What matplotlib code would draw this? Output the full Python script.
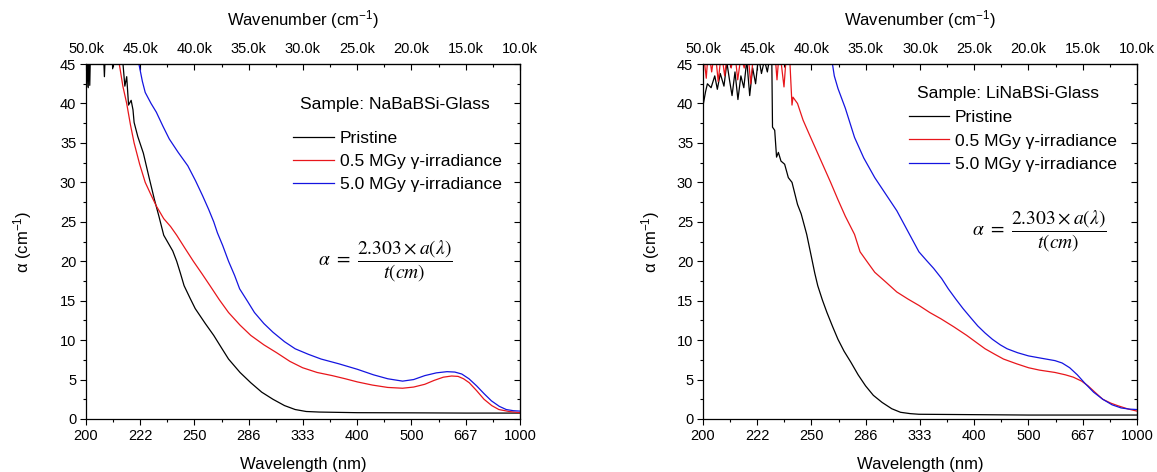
import numpy as np
import matplotlib
matplotlib.use("Agg")
import matplotlib.pyplot as plt
from matplotlib.ticker import FixedLocator, MultipleLocator, FuncFormatter
from matplotlib.lines import Line2D

plt.rcParams['font.family'] = ['Liberation Sans', 'DejaVu Sans']
plt.rcParams['mathtext.fontset'] = 'custom'
plt.rcParams['mathtext.rm'] = 'Liberation Sans'
plt.rcParams['mathtext.it'] = 'Liberation Sans:italic'

# absorption spectra, x in wavenumber (cm^-1), alpha in cm^-1
# --- NaBaBSi glass ---
nabab_pristine_wn = [50000, 49930, 49860, 49790, 49720, 49650, 49580, 49500, 48400, 48300, 48200,
                     47600, 47540, 47480, 46800, 46587, 46416, 46246, 46075, 45836, 45666, 45563,
                     45222, 44710, 44198, 43686, 43276, 42833, 42000, 41638, 41300, 40956, 40400,
                     39932, 39000, 38225, 37500, 36860, 35800, 34812, 33800, 32765, 31700, 30717,
                     29700, 28500, 25000, 20000, 15000, 10000]
nabab_pristine_a = [48, 42.1, 47, 42.0, 47, 42.3, 47, 47, 47, 43.4, 47,
                    47, 44.4, 47, 47, 45, 42.2, 43.4, 39.8, 40.4, 39.2, 37.6,
                    35.8, 33.7, 30.7, 27.8, 25.7, 23.3, 21.3, 20.0, 18.5, 16.9, 15.3,
                    14.0, 12.1, 10.6, 9.0, 7.6, 5.9, 4.6, 3.4, 2.5, 1.7, 1.2,
                    0.95, 0.88, 0.8, 0.78, 0.75, 0.75]
nabab_05_wn = [47400, 46928, 46600, 46246, 45900, 45563, 45051, 44539, 44000, 43515, 42833,
               42200, 41638, 40900, 40102, 39300, 38567, 37700, 36860, 35800, 34812, 33600,
               32423, 31200, 30034, 28700, 27304, 26100, 24983, 23600, 22184, 20819, 19800,
               18771, 17900, 17065, 16300, 15700, 15200, 14676, 14000, 13311, 12600, 11946,
               11000, 10000]
nabab_05_a = [48, 45, 42.2, 40, 37.3, 35, 32.3, 30, 28.4, 27, 25.4,
              24.4, 23.3, 21.7, 20.0, 18.4, 16.9, 15.1, 13.5, 11.9, 10.6, 9.4,
              8.4, 7.3, 6.5, 5.9, 5.5, 5.1, 4.7, 4.3, 4.0, 3.9, 4.05,
              4.4, 4.9, 5.3, 5.45, 5.4, 5.1, 4.6, 3.6, 2.5, 1.7, 1.2,
              0.95, 0.8]
nabab_50_wn = [45600, 45119, 44800, 44539, 44000, 43515, 42900, 42321, 41500, 40614, 39900,
               39249, 38700, 38225, 37884, 37400, 36860, 36300, 35836, 35100, 34471, 33600,
               32765, 31700, 30717, 29500, 28328, 26700, 24983, 23500, 22184, 20819, 19800,
               18771, 17700, 16724, 16000, 15359, 14700, 13994, 13300, 12629, 11900, 11264,
               10600, 10000]
nabab_50_a = [48, 45, 42.8, 41.4, 40.0, 38.9, 37.1, 35.5, 33.8, 32.1, 30.2,
              28.3, 26.6, 25.0, 23.6, 22.0, 20.0, 18.2, 16.5, 14.9, 13.5, 12.1,
              11.0, 9.8, 8.9, 8.2, 7.6, 7.0, 6.3, 5.6, 5.1, 4.8, 5.0,
              5.5, 5.85, 6.0, 5.95, 5.7, 5.1, 4.2, 3.2, 2.3, 1.6, 1.2,
              1.05, 1.0]

# --- LiNaBSi glass ---
linab_pristine_wn = [50000, 49763, 49593, 49254, 48915, 48678, 48407, 48068, 47797, 47559, 47322,
                     47051, 46780, 46508, 46237, 45966, 45695, 45424, 45152, 44881, 44610, 44339,
                     44068, 43830, 43661, 43593, 43390, 43220, 43051, 42813, 42474, 42135, 41796,
                     41288, 40949, 40440, 40000, 39700, 39423, 39000, 38576, 38050, 37559, 37000,
                     36372, 35700, 35016, 34300, 33491, 32600, 31796, 30900, 30101, 25000, 20000,
                     10000]
linab_pristine_a = [39.7, 41.5, 42.5, 42.0, 43.5, 41.8, 43.8, 42.2, 45.2, 43.0, 41.0,
                    44.0, 40.5, 43.5, 42.0, 45.5, 41.0, 44.5, 42.5, 46.0, 43.8, 45.5,
                    44.0, 46.0, 46.0, 37.0, 36.6, 33.2, 33.8, 32.7, 32.3, 30.6, 30.0,
                    27.2, 26.0, 23.4, 20.5, 18.5, 16.9, 15.1, 13.5, 11.7, 10.1, 8.6,
                    7.2, 5.6, 4.2, 3.0, 2.1, 1.3, 0.85, 0.68, 0.6, 0.55, 0.5,
                    0.5]
linab_05_wn = [50000, 49700, 49500, 49200, 48900, 48600, 48300, 48000, 47700, 47400, 47100,
               46800, 46500, 46200, 45900, 45600, 45300, 44000, 43400, 43180, 42950, 42535,
               42300, 42000, 41797, 41705, 41288, 40779, 40271, 39593, 38915, 38237, 37559,
               36881, 36033, 35525, 34800, 34169, 33100, 32135, 31100, 30101, 29100, 28067,
               26900, 25694, 24800, 23999, 23100, 22304, 21100, 20000, 19000, 17559, 16600,
               15864, 15100, 14509, 13800, 13153, 12400, 11797, 10900, 10000]
linab_05_a = [47, 43.2, 47, 44.0, 47, 42.8, 46.5, 43.5, 47, 44.5, 47,
              43.0, 46, 44.5, 47, 42.5, 47, 48, 47, 43.0, 47, 42.1,
              46.5, 45.5, 39.8, 40.8, 40.0, 37.9, 36.3, 34.2, 32.1, 30.0, 27.8,
              25.7, 23.4, 21.2, 19.8, 18.6, 17.3, 16.1, 15.2, 14.4, 13.5, 12.7,
              11.7, 10.6, 9.7, 8.9, 8.2, 7.6, 7.0, 6.5, 6.2, 5.9, 5.6,
              5.3, 4.8, 4.2, 3.3, 2.5, 2.0, 1.7, 1.3, 1.0]
linab_50_wn = [38500, 38067, 37898, 37559, 36881, 36033, 35186, 34169, 33152, 32135, 31118,
               30101, 29400, 28745, 28000, 27389, 26700, 26033, 25300, 24677, 24000, 23321,
               22600, 21965, 21000, 20000, 18800, 17559, 16900, 16203, 15500, 14848, 14000,
               13153, 12300, 11458, 10700, 10000]
linab_50_a = [48, 45, 43.5, 41.9, 39.4, 35.7, 33.1, 30.6, 28.5, 26.4, 23.8,
              21.2, 20.1, 19.1, 17.8, 16.5, 15.2, 14.0, 12.8, 11.8, 10.9, 10.1,
              9.4, 8.9, 8.4, 8.0, 7.7, 7.4, 7.1, 6.5, 5.6, 4.6, 3.4,
              2.5, 1.8, 1.4, 1.25, 1.2]

series_labels = ['Pristine', '0.5 MGy γ-irradiance', '5.0 MGy γ-irradiance']
series_colors = ['black', '#e8161b', '#1414e0']
major_wn = np.arange(50000, 9999, -5000)


def style_axes(ax):
    ax.set_xlim(50000, 10000)
    ax.set_ylim(0, 45)
    ax.xaxis.set_major_locator(FixedLocator(major_wn))
    ax.xaxis.set_minor_locator(MultipleLocator(2500))
    ax.xaxis.set_major_formatter(FuncFormatter(lambda v, p: f"{1e7 / v:.0f}"))
    ax.yaxis.set_major_locator(MultipleLocator(5))
    ax.yaxis.set_minor_locator(MultipleLocator(2.5))
    ax.tick_params(which='both', direction='out', width=0.8, labelsize=10.5, pad=3)
    ax.tick_params(which='major', length=4)
    ax.tick_params(which='minor', length=2.5)
    for s in ax.spines.values():
        s.set_linewidth(0.9)
    ax.set_xlabel('Wavelength (nm)', fontsize=12, labelpad=10)
    ax.set_ylabel('α (cm$^{-1}$)', fontsize=12)

    top = ax.secondary_xaxis('top')
    top.xaxis.set_major_locator(FixedLocator(major_wn))
    top.xaxis.set_minor_locator(MultipleLocator(2500))
    top.xaxis.set_major_formatter(FuncFormatter(lambda v, p: f"{v / 1000:.1f}k"))
    top.tick_params(which='both', direction='in', width=0.8, labelsize=10.5, pad=6)
    top.tick_params(which='major', length=4)
    top.tick_params(which='minor', length=2.5)
    top.set_xlabel('Wavenumber (cm$^{-1}$)', fontsize=12, labelpad=12)

    right = ax.secondary_yaxis('right')
    right.yaxis.set_major_locator(MultipleLocator(5))
    right.yaxis.set_minor_locator(MultipleLocator(2.5))
    right.tick_params(which='both', direction='in', width=0.8, labelright=False)
    right.tick_params(which='major', length=4)
    right.tick_params(which='minor', length=2.5)


fig = plt.figure(figsize=(11.57, 4.72), dpi=100)
ax1 = fig.add_axes([0.0743, 0.1123, 0.3751, 0.752])
ax2 = fig.add_axes([0.6076, 0.1123, 0.3751, 0.752])

panels = [
    (ax1, [(nabab_pristine_wn, nabab_pristine_a), (nabab_05_wn, nabab_05_a), (nabab_50_wn, nabab_50_a)]),
    (ax2, [(linab_pristine_wn, linab_pristine_a), (linab_05_wn, linab_05_a), (linab_50_wn, linab_50_a)]),
]

for ax, curves in panels:
    for (wn, a), c in zip(curves, series_colors):
        ax.plot(wn, a, color=c, lw=0.9)
    style_axes(ax)

formula = r'$\alpha\ =\ \dfrac{2.303\times a(\lambda)}{t(cm)}$'
h = [Line2D([], [], color=c, lw=0.9) for c in series_colors]


def add_legend(ax, anchor):
    ax.legend(h, series_labels, loc='upper left', bbox_to_anchor=anchor,
              frameon=False, fontsize=12.6, handlelength=2.3, handletextpad=0.35,
              labelspacing=0.45, borderpad=0, borderaxespad=0)


# left panel text
ax1.text(0.493, 0.885, 'Sample: NaBaBSi-Glass', transform=ax1.transAxes,
         fontsize=12.6, va='center', ha='left')
add_legend(ax1, (0.478, 0.812))
ax1.text(0.689, 0.445, formula, transform=ax1.transAxes, fontsize=14,
         ha='center', va='center', math_fontfamily='stix')

# right panel text
ax2.text(0.493, 0.918, 'Sample: LiNaBSi-Glass', transform=ax2.transAxes,
         fontsize=12.6, va='center', ha='left')
add_legend(ax2, (0.474, 0.87))
ax2.text(0.776, 0.527, formula, transform=ax2.transAxes, fontsize=14,
         ha='center', va='center', math_fontfamily='stix')

ax1.yaxis.set_label_coords(-0.12, 0.5)
ax2.yaxis.set_label_coords(-0.095, 0.5)

fig.savefig('out.png', dpi=100)
